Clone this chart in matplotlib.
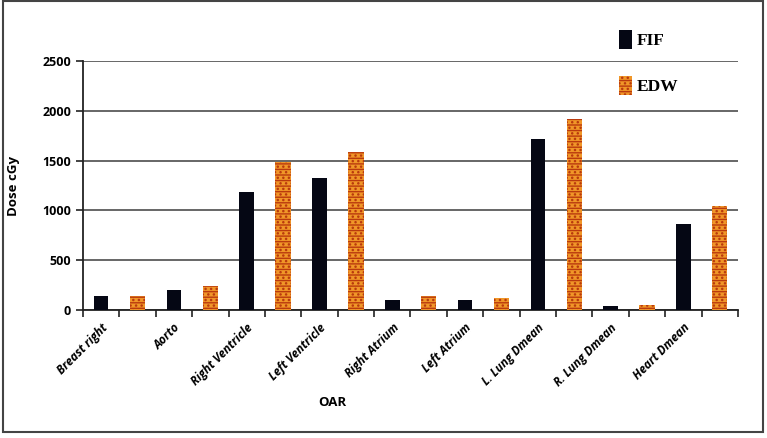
import matplotlib.pyplot as plt
from matplotlib.patches import Patch, Rectangle

organs = ['Breast right', 'Aorto', 'Right Ventricle', 'Left Ventricle', 'Right Atrium',
          'Left Atrium', 'L. Lung Dmean', 'R. Lung Dmean', 'Heart Dmean']
fif = [140, 198, 1188, 1325, 97, 97, 1714, 43, 860]
edw = [140, 246, 1486, 1590, 140, 117, 1921, 53, 1047]
yticks = [0, 500, 1000, 1500, 2000, 2500]

sans = 'Open Sans'
plt.rcParams['hatch.linewidth'] = 1.0

fig = plt.figure(figsize=(7.67, 4.38), dpi=100)
ax = fig.add_axes([0.1082, 0.2922, 0.854, 0.5685])

x_fif = [2 * i for i in range(len(organs))]
x_edw = [2 * i + 1 for i in range(len(organs))]

ax.bar(x_fif, fif, width=0.4, color='#050714', zorder=3)
ax.bar(x_edw, edw, width=0.42, color='#F09628', edgecolor='#BA3A0E', hatch='---...',
       linewidth=0, zorder=3)

ax.set_xlim(-0.5, 2 * len(organs) - 0.5)
ax.set_ylim(0, 2500)
ax.set_yticks(yticks)
ax.set_yticklabels([str(v) for v in yticks], fontfamily=sans, fontweight='bold', fontsize=9)
ax.yaxis.grid(True, color='#5a5a5a', linewidth=1.3, zorder=0)

ax.set_xticks(x_fif)
ax.set_xticklabels(organs, rotation=45, ha='right', rotation_mode='anchor',
                   fontfamily=sans, fontweight='bold', fontstyle='italic', fontsize=8.5)
ax.tick_params(axis='x', length=0, pad=8)
ax.set_xticks([k - 0.5 for k in range(2 * len(organs) + 1)], minor=True)
ax.tick_params(axis='x', which='minor', length=5, width=1.2, color='#222222')
ax.tick_params(axis='y', length=5, width=1.2, color='#222222')

for s in ['top', 'right']:
    ax.spines[s].set_visible(False)
for s in ['left', 'bottom']:
    ax.spines[s].set_linewidth(1.3)
    ax.spines[s].set_color('#222222')

ax.set_ylabel('Dose cGy', fontfamily=sans, fontweight='bold', fontsize=9.5, labelpad=16)
fig.text(332 / 767, 1 - 402 / 438, 'OAR', ha='center', va='center',
         fontfamily=sans, fontweight='bold', fontsize=9.5)

handles = [Patch(facecolor='#050714'),
           Patch(facecolor='#F09628', edgecolor='#BA3A0E', hatch='---...', linewidth=0)]
fig.legend(handles, ['FIF', 'EDW'], loc='upper left', bbox_to_anchor=(603 / 767, 1 - 14 / 438),
           frameon=False, handlelength=0.75, handleheight=1.3, handletextpad=0.3,
           labelspacing=1.55, prop={'family': 'Liberation Serif', 'weight': 'bold', 'size': 12.5})

fig.patches.append(Rectangle((0.004, 0.014), 0.991, 0.983, transform=fig.transFigure,
                             fill=False, edgecolor='#444444', linewidth=1.5))

plt.savefig('out.png', dpi=100)
